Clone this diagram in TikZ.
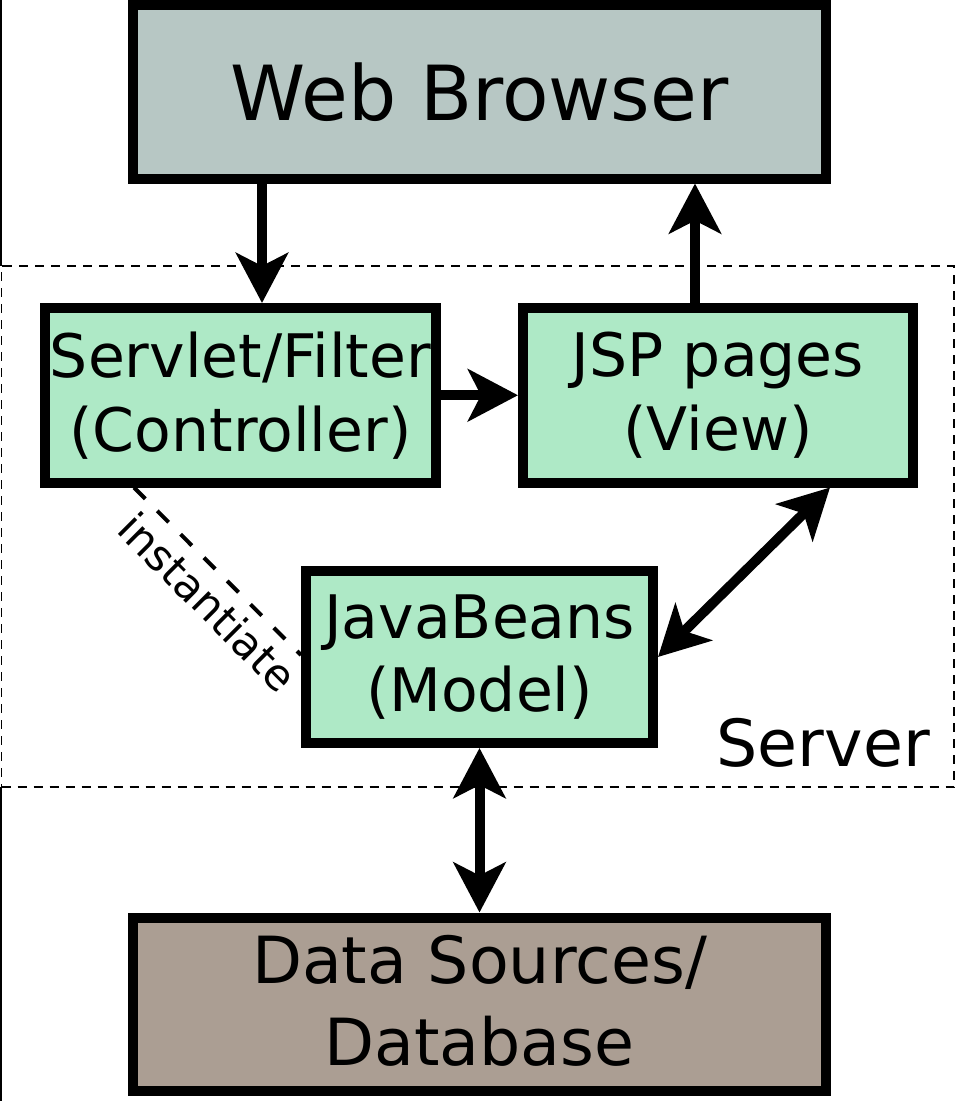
\documentclass[tikz,border=0pt]{standalone}
\usepackage{fontspec}
\setmainfont{DejaVu Sans}
\usetikzlibrary{arrows.meta}
\definecolor{browserfill}{RGB}{183,199,196}
\definecolor{mvcgreen}{RGB}{174,233,198}
\definecolor{datafill}{RGB}{171,158,147}
\tikzset{
  box/.style={draw=black, line width=10pt, rectangle, inner sep=0pt, align=center},
  headtip/.tip={Stealth[length=50pt,width=52pt,inset=13pt]},
  conn/.style={line width=10pt, -headtip},
  biconn/.style={line width=10pt, headtip-headtip},
  servercloud/.style={draw=black, line width=1.8pt, dash pattern=on 9pt off 7pt, rectangle, inner sep=0pt},
  instline/.style={line width=4pt, dash pattern=on 16pt off 17pt},
  greenfont/.style={font=\fontsize{60pt}{74pt}\selectfont},
}
\begin{document}
\begin{tikzpicture}[x=1pt,y=-1pt]
\useasboundingbox (0,0) rectangle (955,1101);
\fill[white] (0,0) rectangle (955,1101);
\draw[line width=1.5pt] (0.75,0) -- (0.75,266);
\draw[line width=1.5pt] (0.75,787) -- (0.75,1101);

% server region
\node[servercloud, minimum width=952.5pt, minimum height=521pt] (server) at (477.75,526.5) {};
\node[anchor=base east, inner sep=0pt, font=\fontsize{65pt}{74pt}\selectfont] (serverlabel) at (930,766) {Server};

% boxes
\node[box, fill=browserfill, minimum width=693pt, minimum height=173.5pt,
      font=\fontsize{76pt}{90pt}\selectfont] (web) at (479.5,91.75) {Web Browser};
\node[box, fill=mvcgreen, minimum width=391pt, minimum height=174.5pt, greenfont]
      (ctrl) at (240.5,395.25) {Servlet/Filter\\(Controller)};
\node[box, fill=mvcgreen, minimum width=390pt, minimum height=174.5pt, greenfont]
      (view) at (718,395.25) {JSP pages\\(View)};
\node[box, fill=mvcgreen, minimum width=347pt, minimum height=172pt,
      font=\fontsize{60pt}{73pt}\selectfont] (model) at (479.5,657) {JavaBeans\\(Model)};
\node[box, fill=datafill, minimum width=693pt, minimum height=173.5pt,
      font=\fontsize{65pt}{82pt}\selectfont, text depth=8pt] (data) at (479.5,1004.25) {Data Sources/\\Database};

% helper coordinates for connector positions
\coordinate (xa) at (262,0);
\coordinate (xb) at (695,0);
\coordinate (xc) at (830,0);
\coordinate (xd) at (134,0);
\coordinate (yd) at (0,655);

% connectors
\draw[conn] (web.south -| xa) -- (ctrl.north -| xa);
\draw[conn] (view.north -| xb) -- (web.south -| xb);
\draw[conn] (ctrl.east) -- (view.west);
\draw[biconn] (model.east) -- (view.south -| xc);
\draw[biconn] (model.south) -- (data.north);
\draw[instline] (ctrl.south -| xd) -- (model.west |- yd);
\node[rotate=-45, inner sep=0pt, font=\fontsize{43pt}{50pt}\selectfont] (inst) at (208,602) {instantiate};
\end{tikzpicture}
\end{document}
